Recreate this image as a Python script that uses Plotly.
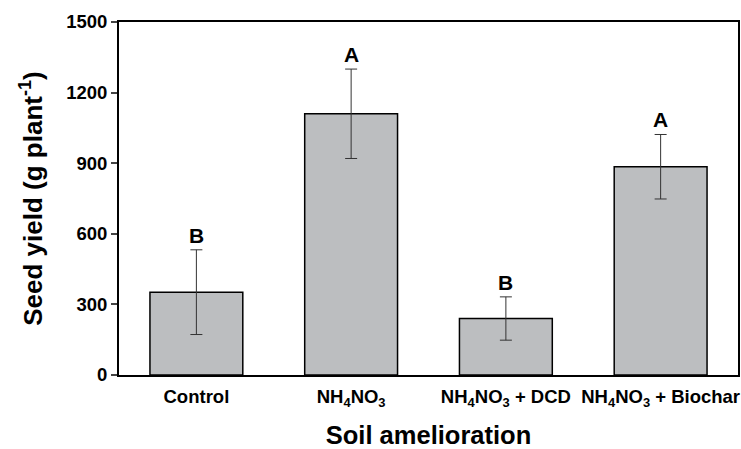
import plotly.graph_objects as go

categories = ["Control", "NH<sub>4</sub>NO<sub>3</sub>", "NH<sub>4</sub>NO<sub>3</sub> + DCD", "NH<sub>4</sub>NO<sub>3</sub> + Biochar"]
seed_yield = [352, 1110, 240, 885]
errors = [180, 190, 92, 137]
letters = ["B", "A", "B", "A"]
y_ticks = [0, 300, 600, 900, 1200, 1500]

FONT = "Liberation Sans, Arial"

fig = go.Figure()
fig.add_trace(go.Bar(
    x=categories, y=seed_yield,
    marker=dict(color="#bcbec0", line=dict(color="black", width=1.5)),
    width=0.6,
    error_y=dict(type="data", array=errors, visible=True, color="#333333", thickness=1, width=6),
))
for c, v, e, l in zip(categories, seed_yield, errors, letters):
    fig.add_annotation(x=c, y=v + e, text="<b>%s</b>" % l, showarrow=False,
                       yanchor="bottom", yshift=1,
                       font=dict(family=FONT, size=21, color="black"))

fig.update_layout(
    width=741, height=449,
    margin=dict(l=119, r=3, t=22, b=74),
    paper_bgcolor="white", plot_bgcolor="white",
    showlegend=False,
    font=dict(family=FONT, color="black"),
)
fig.update_xaxes(
    automargin=False,
    showline=True, linecolor="black", linewidth=2, mirror=True,
    ticks="", tickfont=dict(size=18.5, family=FONT), ticklabelstandoff=4,
    tickprefix="<b>", ticksuffix="</b>",
    title=dict(text="<b>Soil amelioration</b>", font=dict(size=25.5), standoff=18),
)
fig.update_yaxes(
    automargin=False,
    range=[0, 1500], tickvals=y_ticks,
    ticktext=["<b>%d</b>" % t for t in y_ticks],
    showline=True, linecolor="black", linewidth=2, mirror=True,
    ticks="outside", ticklen=6, tickwidth=2, showgrid=False, zeroline=False,
    tickfont=dict(size=18.5),
    title=dict(text="<b>Seed yield (g plant<sup>-1</sup>)</b>", font=dict(size=26), standoff=16),
)
fig.write_html("out.html", config={"displayModeBar": False},
               post_script="document.body.style.margin='0';document.body.style.overflow='hidden';")
